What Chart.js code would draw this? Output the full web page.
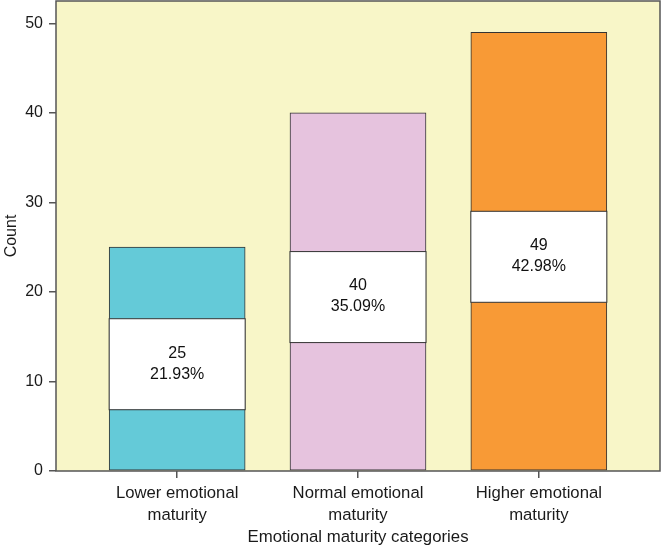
<!DOCTYPE html>
<html>
<head>
<meta charset="utf-8">
<script src="https://cdn.jsdelivr.net/npm/chart.js@4/dist/chart.umd.min.js"></script>
<style>
  html, body { margin: 0; padding: 0; background: #fff; }
  #wrap { width: 662px; height: 546px; }
</style>
</head>
<body>
<div id="wrap"><canvas id="maturityChart" width="662" height="546"></canvas></div>
<script>
// data
const categories = [["Lower emotional", "maturity"], ["Normal emotional", "maturity"], ["Higher emotional", "maturity"]];
const counts = [25, 40, 49];
const percents = ["21.93%", "35.09%", "42.98%"];
const barColors = ["#64cad8", "#e6c3de", "#f89a36"];
const yTicks = [0, 10, 20, 30, 40, 50];

const FONT = "'Liberation Sans', Arial, sans-serif";
const TEXT = "#1a1a1a";
const LINE = "#555";

// yellow plot background + frame
const plotFrame = {
  id: "plotFrame",
  beforeDraw(chart) {
    const { ctx, chartArea: a } = chart;
    ctx.save();
    ctx.fillStyle = "#f8f6c8";
    ctx.fillRect(a.left, a.top, a.right - a.left, a.bottom - a.top);
    ctx.restore();
  },
  afterDraw(chart) {
    const { ctx, chartArea: a } = chart;
    ctx.save();
    ctx.strokeStyle = LINE;
    ctx.lineWidth = 1.5;
    ctx.strokeRect(a.left, a.top, a.right - a.left, a.bottom - a.top);
    ctx.restore();
  }
};

// white count/percent box in the middle of each bar
const valueBoxes = {
  id: "valueBoxes",
  afterDatasetsDraw(chart) {
    const { ctx } = chart;
    const meta = chart.getDatasetMeta(0);
    ctx.save();
    meta.data.forEach((bar, i) => {
      const w = bar.width;
      const mid = (bar.y + bar.base) / 2 + 5.5;
      const h = 91;
      ctx.fillStyle = "#fff";
      ctx.fillRect(bar.x - w / 2, mid - h / 2, w, h);
      ctx.strokeStyle = "#333";
      ctx.lineWidth = 1;
      ctx.strokeRect(bar.x - w / 2, mid - h / 2, w, h);
      ctx.fillStyle = "#111";
      ctx.font = "16px " + FONT;
      ctx.textAlign = "center";
      ctx.textBaseline = "middle";
      ctx.fillText(String(counts[i]), bar.x, mid - 11);
      ctx.fillText(percents[i], bar.x, mid + 10);
    });
    ctx.restore();
  }
};

new Chart(document.getElementById("maturityChart"), {
  type: "bar",
  data: {
    datasets: [{
      data: counts.map((c, i) => ({ x: i + 1, y: c })),
      backgroundColor: barColors,
      borderColor: "#333",
      borderWidth: 1,
      borderSkipped: false,
      barThickness: 136
    }]
  },
  options: {
    responsive: false,
    animation: false,
    layout: { autoPadding: false, padding: { top: 1, right: 2, left: 0, bottom: 0 } },
    plugins: { legend: { display: false }, tooltip: { enabled: false } },
    scales: {
      x: {
        type: "linear",
        offset: false,
        min: 0.33,
        max: 3.67,
        afterBuildTicks: s => { s.ticks = categories.map((c, i) => ({ value: i + 1 })); },
        afterFit: s => { s.height = 75; s.paddingLeft = 0; s.paddingRight = 0; },
        ticks: {
          callback: v => categories[v - 1],
          color: TEXT,
          font: { family: FONT, size: 16.7, lineHeight: 1.32 },
          padding: 4,
          maxRotation: 0,
          autoSkip: false
        },
        grid: { drawOnChartArea: false, offset: false, tickLength: 7, color: LINE, lineWidth: 1.5 },
        border: { display: false },
        title: {
          display: true,
          text: "Emotional maturity categories",
          color: TEXT,
          font: { family: FONT, size: 16.8, lineHeight: 1 },
          padding: 0
        }
      },
      y: {
        min: 0,
        max: 52.5,
        afterBuildTicks: s => { s.ticks = yTicks.map(v => ({ value: v })); },
        afterFit: s => { s.width = 56; s.paddingTop = 0; s.paddingBottom = 0; },
        ticks: {
          color: TEXT,
          font: { family: FONT, size: 16 },
          padding: 6
        },
        grid: { drawOnChartArea: false, tickLength: 7, color: LINE, lineWidth: 1.5 },
        border: { display: false },
        title: {
          display: true,
          text: "Count",
          color: TEXT,
          font: { family: FONT, size: 16, lineHeight: 1.2 },
          padding: { top: 2, bottom: 0 }
        }
      }
    }
  },
  plugins: [plotFrame, valueBoxes]
});
</script>
</body>
</html>
